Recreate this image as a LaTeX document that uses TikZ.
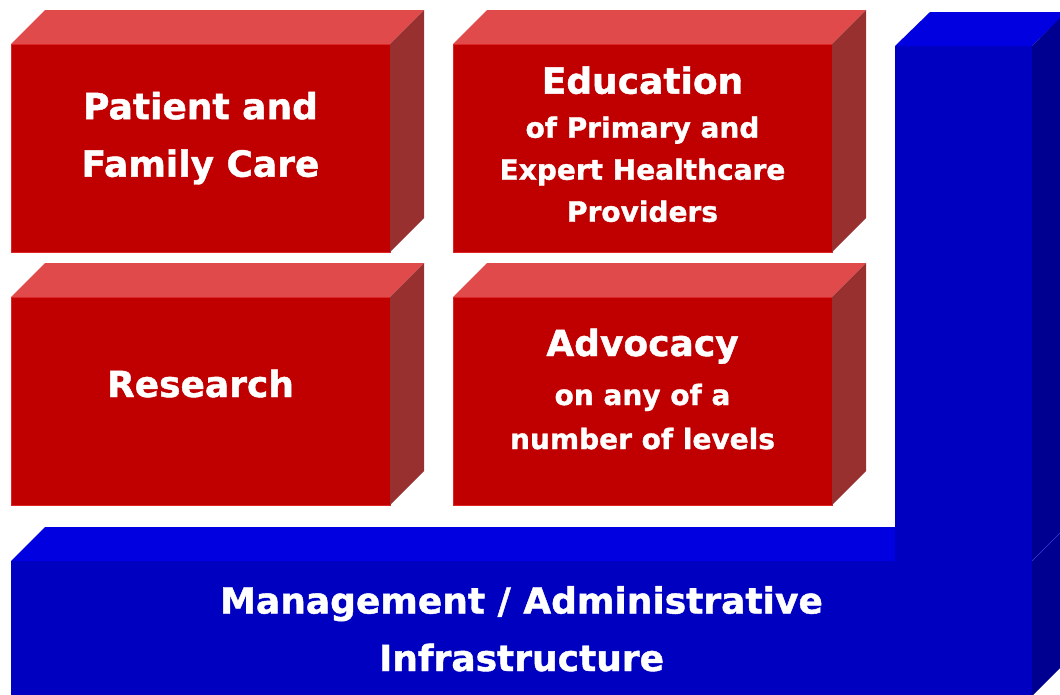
\documentclass[tikz,border=0pt]{standalone}
\usepackage{fontspec}
\setmainfont{DejaVu Sans}[BoldFeatures={FakeBold=1.2}]

\definecolor{redfront}{RGB}{192,0,0}
\definecolor{redtop}{RGB}{224,74,74}
\definecolor{redside}{RGB}{153,48,48}
\definecolor{rededge}{RGB}{222,36,36}
\definecolor{bluefront}{RGB}{0,0,192}
\definecolor{bluetop}{RGB}{0,0,224}
\definecolor{blueside}{RGB}{0,0,144}
\definecolor{blueedge}{RGB}{60,60,220}

\begin{document}
\begin{tikzpicture}[x=1pt, y=-1pt,
    redface/.style={fill=redfront, draw=rededge, line width=1pt, minimum width=379pt, minimum height=208pt, inner sep=0pt, outer sep=0pt},
    blueface/.style={fill=bluefront, inner sep=0pt, outer sep=0pt},
    bigtext/.style={text=white, font=\bfseries\fontsize{36}{57.5}\selectfont, align=center, anchor=base, inner sep=0pt},
    smalltext/.style={text=white, font=\bfseries\fontsize{28}{42}\selectfont, align=center, anchor=base, inner sep=0pt}
]
    \useasboundingbox (0, 0) rectangle (1060, 694);
    \clip (0, 0) rectangle (1060, 694);

    % blue base
    \node[blueface, minimum width=1021pt, minimum height=135pt] (infra) at (521.5, 628.5) {};
    \node[blueface, minimum width=137pt, minimum height=515pt] (column) at (963.5, 303.5) {};
    \fill[bluetop] (infra.north west) -- ++(34, -34) -- ++(850, 0) -- (column.south west) -- cycle;
    \fill[bluetop] (column.north west) -- ++(35, -34) -- ++(137, 0) -- (column.north east) -- cycle;
    \fill[blueside] (column.north east) -- ++(34, -34) -- ++(0, 650) -- (infra.south east) -- cycle;
    \draw[blueedge, line width=0.5pt] (infra.north east) -- ++(34, -34);

    % red blocks
    \foreach \name/\cx/\cy in {care/200.5/148, educ/642.5/148, research/200.5/401, advoc/642.5/401} {
        \node[redface] (\name) at (\cx, \cy) {};
        \fill[redtop] (\name.north west) -- ++(34, -34) -- ++(379, 0) -- (\name.north east) -- cycle;
        \fill[redside] (\name.north east) -- ++(34, -34) -- ++(0, 208) -- (\name.south east) -- cycle;
    }

    % texts (base = last line)
    \node[bigtext] (caretext) at (200.5, 176.7) {Patient and\\Family Care};
    \node[smalltext] (eductext) at (642.5, 221.7) {{\fontsize{36}{42}\selectfont Education}\\[2pt]of Primary and\\Expert Healthcare\\Providers};
    \node[bigtext] (researchtext) at (200.5, 397) {Research};
    \node[smalltext, font=\bfseries\fontsize{28}{44}\selectfont] (advoctext) at (642.5, 449) {{\fontsize{36}{44}\selectfont Advocacy}\\[5pt]on any of a\\number of levels};
    \node[bigtext] (infratext) at (521.5, 671) {Management / Administrative\\Infrastructure};
\end{tikzpicture}
\end{document}
